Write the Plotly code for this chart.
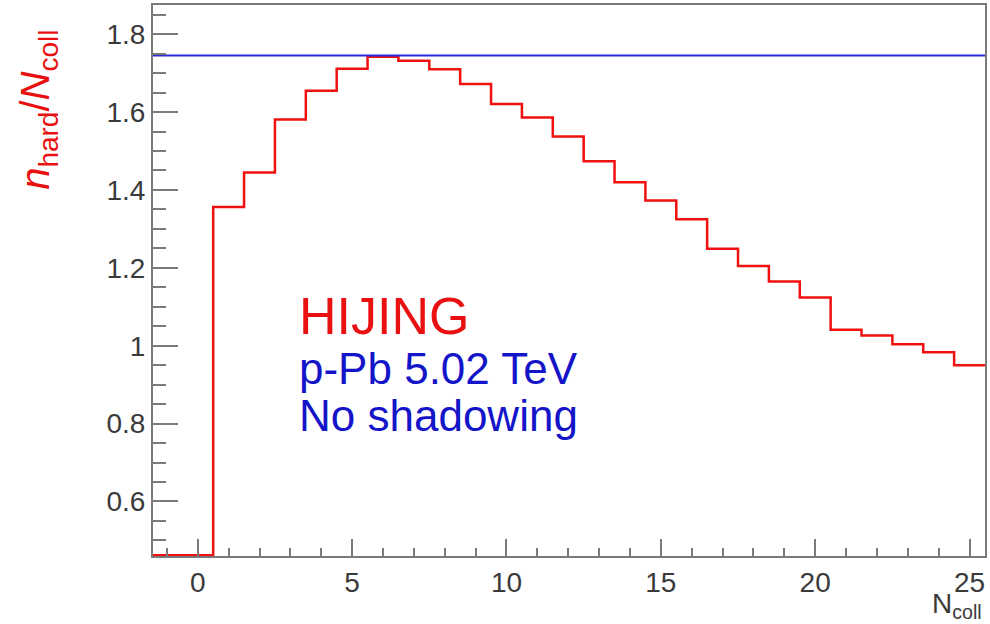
import numpy as np
import plotly.graph_objects as go

# ---- data ----
n_coll_bins = list(range(-1, 26))
nhard_over_ncoll = [0.0, 0.0, 1.356, 1.445, 1.581, 1.655, 1.711, 1.742, 1.732, 1.710,
                    1.672, 1.621, 1.586, 1.537, 1.474, 1.420, 1.373, 1.325, 1.249,
                    1.205, 1.165, 1.124, 1.041, 1.026, 1.004, 0.983, 0.950]
reference_level = 1.745
x_range = [-1.45, 25.5]
y_range = [0.46, 1.875]

# ---- build step histogram ----
centers = np.array(n_coll_bins, dtype=float)
edges = np.append(centers - 0.5, centers[-1] + 0.5)
vals = np.maximum(np.array(nhard_over_ncoll), y_range[0] + 0.002)
step_y = np.append(vals, vals[-1])

fig = go.Figure()
fig.add_trace(go.Scatter(
    x=edges, y=step_y, mode="lines", line_shape="hv",
    line=dict(color="#f01010", width=2.5), showlegend=False, hoverinfo="skip"))
fig.add_trace(go.Scatter(
    x=x_range, y=[reference_level, reference_level], mode="lines",
    line=dict(color="#2a2ad8", width=2), showlegend=False, hoverinfo="skip"))

font_family = "Liberation Sans, Arial, Helvetica, sans-serif"
tick_font = dict(family=font_family, size=28, color="#3a3a3a")
frame = "#7a7a7a"

fig.update_layout(
    width=990, height=624,
    margin=dict(l=153, r=3, t=5, b=68),
    paper_bgcolor="white", plot_bgcolor="white",
    xaxis=dict(range=x_range, showgrid=False, zeroline=False,
               showline=True, linecolor=frame, linewidth=2, mirror=True,
               ticks="inside", ticklen=17, tickwidth=1.5, tickcolor=frame,
               tick0=0, dtick=5, tickfont=tick_font,
               minor=dict(ticks="inside", ticklen=8, tickwidth=1.5, tickcolor=frame, dtick=1, tick0=0)),
    yaxis=dict(range=y_range, showgrid=False, zeroline=False,
               showline=True, linecolor=frame, linewidth=2, mirror=True,
               ticks="inside", ticklen=25, tickwidth=1.5, tickcolor=frame,
               tick0=0, dtick=0.2, tickfont=tick_font,
               minor=dict(ticks="inside", ticklen=13, tickwidth=1.5, tickcolor=frame, dtick=0.05, tick0=0)),
)

fig.add_annotation(xref="paper", yref="paper", x=0.1727, y=0.4356,
                   xanchor="left", yanchor="middle", showarrow=False,
                   text="HIJING", font=dict(family=font_family, size=52, color="#e81010"))
fig.add_annotation(xref="paper", yref="paper", x=0.1727, y=0.3395,
                   xanchor="left", yanchor="middle", showarrow=False,
                   text="p-Pb 5.02 TeV", font=dict(family=font_family, size=44, color="#1414c8"))
fig.add_annotation(xref="paper", yref="paper", x=0.1727, y=0.2557,
                   xanchor="left", yanchor="middle", showarrow=False,
                   text="No shadowing", font=dict(family=font_family, size=44, color="#1414c8"))

# axis titles
fig.add_annotation(xref="paper", yref="paper", x=-0.138, y=0.81,
                   xanchor="center", yanchor="middle", showarrow=False, textangle=-90,
                   text="<i>n</i><sub>hard</sub>/<i>N</i><sub>coll</sub>",
                   font=dict(family=font_family, size=40, color="#e81010"))
fig.add_annotation(xref="paper", yref="paper", x=0.999, y=-0.09,
                   xanchor="right", yanchor="middle", showarrow=False,
                   text="N<sub>coll</sub>",
                   font=dict(family=font_family, size=28, color="#3a3a3a"))

fig.write_html("out.html")
